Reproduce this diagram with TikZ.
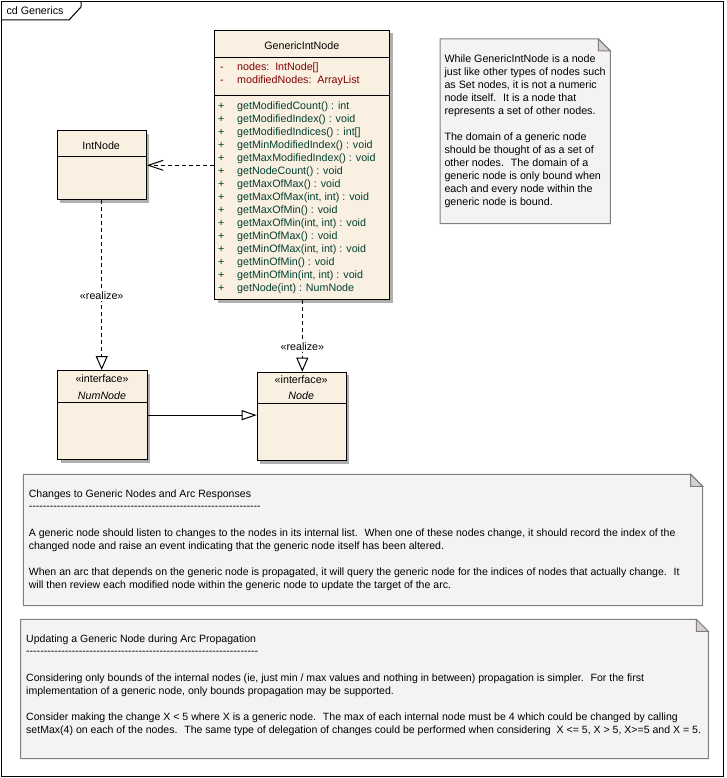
\documentclass[tikz,border=0pt]{standalone}
\usepackage{fontspec}
\newfontfamily\uifont{Liberation Sans}
\usetikzlibrary{arrows.meta,shadows}

\definecolor{classfill}{RGB}{250,240,226}
\definecolor{notefill}{RGB}{245,242,246}
\definecolor{noteline}{RGB}{128,128,128}
\definecolor{earfill}{RGB}{212,208,212}
\definecolor{shadowgray}{RGB}{175,175,175}
\definecolor{opcolor}{RGB}{0,64,48}
\definecolor{attrcolor}{RGB}{128,0,0}

\begin{document}
\begin{tikzpicture}[x=1pt, y=-1pt, line width=1pt,
    every node/.style={font=\uifont\fontsize{10.7}{13}\selectfont, inner sep=0pt},
    classbox/.style={draw=black, fill=classfill, anchor=north west,
        drop shadow={shadow xshift=3pt, shadow yshift=-3pt, fill=shadowgray, opacity=1}},
    notebox/.style={anchor=north west},
    txt/.style={anchor=base west},
    widetxt/.style={anchor=base west, font=\uifont\fontsize{10.55}{13}\selectfont},
    optext/.style={anchor=base west, text=opcolor},
    attrtext/.style={anchor=base west, text=attrcolor},
    dep/.style={draw=black, dash pattern=on 4pt off 3pt},
    lbl/.style={fill=white, inner sep=1.5pt}]

% Define a variable for spacing
\def\rowh{13}
\def\opx{236.7}

% Page and frame
\fill[white] (0,0) rectangle (727,778);
\useasboundingbox (0,0) rectangle (727,778);
\draw (1.5,1.5) rectangle (723.5,776.5);
\draw (1.5,20) -- (69,20) -- (81,7) -- (81,1.5);
\node[txt] (frametitle) at (6,14.5) {cd Generics};

% Notes (placeholders for the outlines)
\node[notebox, minimum width=169.3pt, minimum height=183.7pt] (notegeneric) at (440,39) {};
\node[notebox, minimum width=678.4pt, minimum height=130.4pt] (notechanges) at (23.3,474.3) {};
\node[notebox, minimum width=686.6pt, minimum height=138.4pt] (noteupdating) at (20.7,619.3) {};

% Note outlines with folded corner
\foreach \n in {notegeneric,notechanges,noteupdating} {
    \filldraw[fill=notefill, draw=noteline] (\n.north west) -- ([xshift=-12pt]\n.north east)
        -- ([yshift=-12pt]\n.north east) -- (\n.south east) -- (\n.south west) -- cycle;
    \filldraw[fill=earfill, draw=noteline] ([xshift=-12pt]\n.north east)
        -- ([xshift=-12pt,yshift=-12pt]\n.north east) -- ([yshift=-12pt]\n.north east) -- cycle;
}

% Classes
\node[classbox, minimum width=175pt, minimum height=269pt] (generic) at (214.3,30) {};
\draw (generic.west |- 0,57.3) -- (generic.east |- 0,57.3);
\draw (generic.west |- 0,96) -- (generic.east |- 0,96);

\node[classbox, minimum width=89pt, minimum height=69pt] (intnode) at (56.7,130.3) {};
\draw (intnode.west |- 0,157) -- (intnode.east |- 0,157);

\node[classbox, minimum width=89.4pt, minimum height=89.3pt] (numnode) at (57.3,370) {};
\draw (numnode.west |- 0,402.3) -- (numnode.east |- 0,402.3);

\node[classbox, minimum width=89pt, minimum height=88.3pt] (nodeif) at (256.7,371.7) {};
\draw (nodeif.west |- 0,403.3) -- (nodeif.east |- 0,403.3);

% Connectors
\draw[dep, -{Straight Barb[length=15pt, width=10pt]}] (intnode.east -| generic.west) -- (intnode.east);
\draw[dep, -{Triangle[open, length=14pt, width=12pt]}] (intnode.south)
    -- node[lbl, pos=0.56] (realizeleft) {«realize»} (intnode.south |- numnode.north);
\draw[dep, -{Triangle[open, length=14pt, width=12pt]}] (generic.south)
    -- node[lbl, pos=0.65] (realizeright) {«realize»} (generic.south |- nodeif.north);
\draw[-{Triangle[open, length=15pt, width=10pt]}] (numnode.east) -- (numnode.east -| nodeif.west);

% GenericIntNode text
\node[anchor=base] (generictitle) at (301.8,49.5) {GenericIntNode};
\foreach \a/\t [count=\i] in {nodes/IntNode[], modifiedNodes/ArrayList} {
    \node[attrtext] (attrvis\i) at (219.5, {71+\rowh*(\i-1)}) {-};
    \node[attrtext] (attr\i) at (\opx, {71+\rowh*(\i-1)}) {\a:~~\t};
}
\foreach \op [count=\i] in {getModifiedCount() : int, getModifiedIndex() : void,
    getModifiedIndices() : int[], getMinModifiedIndex() : void, getMaxModifiedIndex() : void,
    getNodeCount() : void, getMaxOfMax() : void, {getMaxOfMax(int, int) : void},
    getMaxOfMin() : void, {getMaxOfMin(int, int) : void}, getMinOfMax() : void,
    {getMinOfMax(int, int) : void}, getMinOfMin() : void, {getMinOfMin(int, int) : void},
    getNode(int) : NumNode} {
    \node[optext] (opvis\i) at (217.5, {109.5+\rowh*(\i-1)}) {+};
    \node[optext] (op\i) at (\opx, {109.5+\rowh*(\i-1)}) {\op};
}

% Other class text
\node[anchor=base] (intnodetitle) at (101.2,149.7) {IntNode};
\node[anchor=base] (numnodestereo) at (102,382.5) {«interface»};
\node[anchor=base, font=\uifont\fontsize{10.7}{13}\selectfont\itshape] (numnodetitle) at (102,399) {NumNode};
\node[anchor=base] (nodeifstereo) at (301.2,383.5) {«interface»};
\node[anchor=base, font=\uifont\fontsize{10.7}{13}\selectfont\itshape] (nodeiftitle) at (301.2,399.5) {Node};

% Note text (top right)
\foreach \t/\yy in {{While GenericIntNode is a node}/62.5, {just like other types of nodes such}/75.5,
    {as Set nodes, it is not a numeric}/88.5, {node itself.~ It is a node that}/101.5,
    {represents a set of other nodes.}/114.5, {The domain of a generic node}/140.5,
    {should be thought of as a set of}/153.5, {other nodes.~ The domain of a}/166.5,
    {generic node is only bound when}/179.5, {each and every node within the}/192.5,
    {generic node is bound.}/205.5} {
    \node[txt] at (444,\yy) {\t};
}

% Note text (changes)
\foreach \t/\yy in {{Changes to Generic Nodes and Arc Responses}/497.5,
    {------------------------------------------------------------------}/509.5,
    {A generic node should listen to changes to the nodes in its internal list.~ When one of these nodes change, it should record the index of the}/536.5,
    {changed node and raise an event indicating that the generic node itself has been altered.}/549.5,
    {When an arc that depends on the generic node is propagated, it will query the generic node for the indices of nodes that actually change.~ It}/575.5,
    {will then review each modified node within the generic node to update the target of the arc.}/588.5} {
    \node[widetxt] at (28.3,\yy) {\t};
}

% Note text (updating)
\foreach \t/\yy in {{Updating a Generic Node during Arc Propagation}/642.5,
    {------------------------------------------------------------------}/654.5,
    {Considering only bounds of the internal nodes (ie, just min / max values and nothing in between) propagation is simpler.~ For the first}/681.5,
    {implementation of a generic node, only bounds propagation may be supported.}/694.5,
    {Consider making the change X < 5 where X is a generic node.~ The max of each internal node must be 4 which could be changed by calling}/720.5,
    {setMax(4) on each of the nodes.~ The same type of delegation of changes could be performed when considering~ X <= 5, X > 5, X>=5 and X = 5.}/733.5} {
    \node[widetxt] at (25.7,\yy) {\t};
}

\end{tikzpicture}
\end{document}
